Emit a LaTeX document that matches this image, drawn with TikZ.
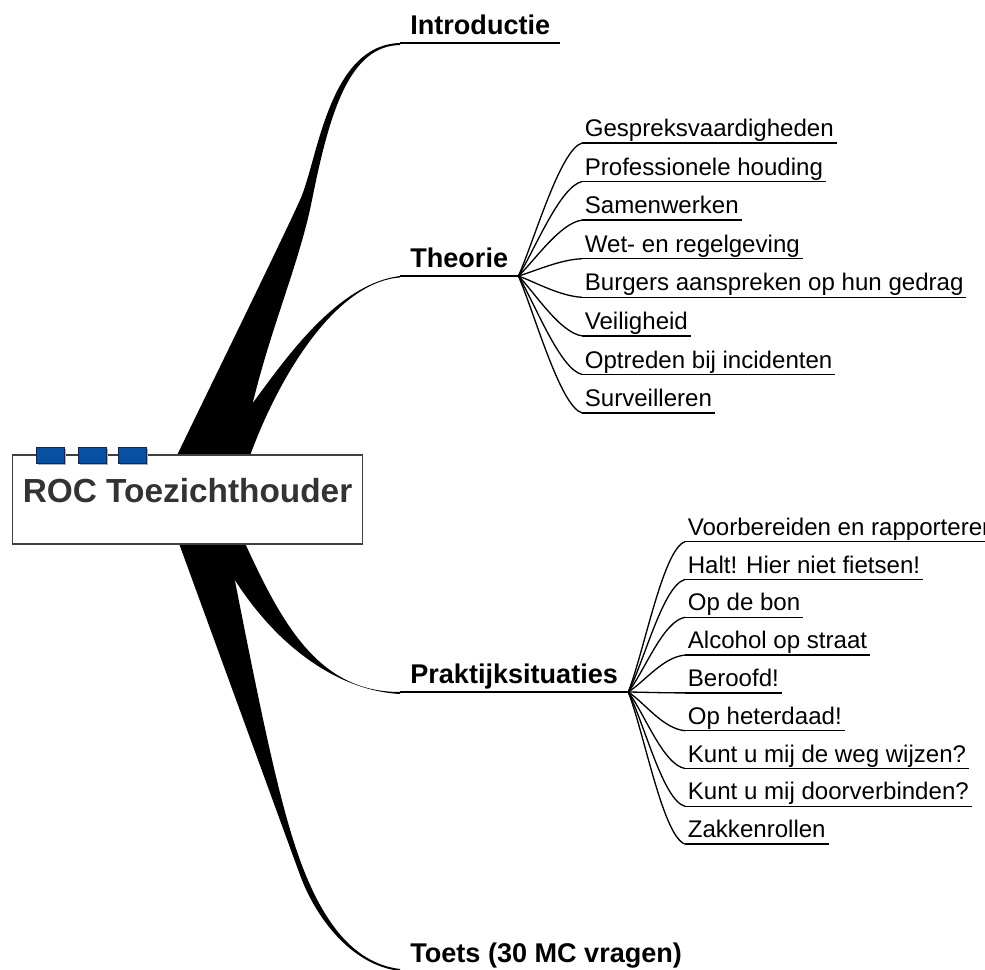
\documentclass[tikz,border=0pt]{standalone}
\usepackage{fontspec}
\setmainfont{Liberation Sans}
\usetikzlibrary{backgrounds}
\definecolor{tabblue}{RGB}{10,80,160}
\definecolor{tabedge}{RGB}{20,35,80}
\definecolor{rootgray}{RGB}{51,51,51}

\begin{document}
\begin{tikzpicture}[x=0.02cm, y=-0.02cm]
	\tikzset{
		rootbox/.style={draw=black!75, fill=white, line width=0.6pt, inner sep=0pt,
			minimum width=7.02cm, minimum height=1.78cm, text height=0.5cm, text depth=0.4cm,
			text=rootgray, font=\bfseries\fontsize{19}{22}\selectfont},
		topic/.style={anchor=south west, inner xsep=0.2cm, inner ysep=0.04cm,
			text height=0.4cm, text depth=0.12cm, font=\bfseries\fontsize{15.4}{18}\selectfont},
		subtopic/.style={anchor=south west, inner xsep=0.05cm, inner ysep=0.02cm,
			text height=0.35cm, text depth=0.1cm, font=\fontsize{13.7}{16}\selectfont},
		stem/.style={line width=0.9pt},
		twig/.style={line width=0.75pt},
		branch/.style={fill=black}
	}
	\useasboundingbox (0,0) rectangle (985,970);

	% central topic
	\node[rootbox] (root) at (187.5,499.5) {ROC Toezichthouder};
	\foreach \x in {36,78,118}{
		\fill[black!30] (\x+2,449) rectangle ++(28,16);
		\draw[tabedge, fill=tabblue, line width=0.5pt] (\x,447) rectangle ++(28,16);
	}

	% main topics
	\node[topic] (intro) at (400,43) {Introductie};
	\draw[stem] (intro.south west) -- (intro.south east);
	\node[topic] (theorie) at (400,276) {Theorie};
	\draw[stem] (theorie.south west) -- (theorie.south east);
	\node[topic] (prak) at (400,692) {Praktijksituaties};
	\draw[stem] (prak.south west) -- (prak.south east);
	\node[topic] (toets) at (400,971) {Toets (30 MC vragen)};
	\draw[stem] (toets.south west) -- (toets.south east);

	% thick branches, behind the central box
	\begin{scope}[on background layer]
		\fill[branch] (root.center) -- (165,480) .. controls (210,387) and (282,240) .. (300,200)
			.. controls (318,160) and (328,45) .. (intro.south west) -- ++(0,2)
			.. controls (350,46) and (330,110) .. (312,200)
			.. controls (296,280) and (255,360) .. (240,470) -- cycle;
		\fill[branch] (root.center) -- (225,480) -- (240,420) .. controls (275,375) and (330,285) .. (theorie.south west)
			-- ++(0,1.5) .. controls (335,282) and (275,380) .. (245,470) -- cycle;
		\fill[branch] (root.center) -- (230,510) .. controls (275,610) and (310,692) .. (prak.south west)
			-- ++(0,2) .. controls (330,690) and (260,635) .. (215,545) -- cycle;
		\fill[branch] (root.center) -- (165,505) -- (300,875) .. controls (315,916) and (350,965) .. (toets.south west)
			-- ++(0,-2) .. controls (350,963) and (320,915) .. (300,860)
			.. controls (280,805) and (262,720) .. (228,545) -- cycle;
	\end{scope}

	% subtopics of Theorie
	\foreach \txt [count=\i from 0] in {Gespreksvaardigheden, Professionele houding, Samenwerken,
		Wet- en regelgeving, Burgers aanspreken op hun gedrag, Veiligheid,
		Optreden bij incidenten, Surveilleren}{
		\pgfmathsetmacro\yy{143+38.57*\i}
		\pgfmathsetmacro\da{0.27*(\yy-276)}
		\pgfmathsetmacro\db{-0.05*(\yy-276)}
		\node[subtopic] (th\i) at (582,\yy) {\txt};
		\draw[twig] (th\i.south west) -- (th\i.south east);
		\draw[twig] (theorie.south east) .. controls +(16,\da) and +(-22,\db) .. (th\i.south west);
	}

	% subtopics of Praktijksituaties
	\foreach \txt [count=\i from 0] in {Voorbereiden en rapporteren, Halt! Hier niet fietsen!, Op de bon,
		Alcohol op straat, Beroofd!, Op heterdaad!, Kunt u mij de weg wijzen?,
		Kunt u mij doorverbinden?, Zakkenrollen}{
		\pgfmathsetmacro\yy{541.7+37.8*\i}
		\pgfmathsetmacro\da{0.27*(\yy-692)}
		\pgfmathsetmacro\db{-0.05*(\yy-692)}
		\node[subtopic] (pr\i) at (685,\yy) {\txt};
		\draw[twig] (pr\i.south west) -- (pr\i.south east);
		\draw[twig] (prak.south east) .. controls +(16,\da) and +(-22,\db) .. (pr\i.south west);
	}
\end{tikzpicture}
\end{document}
